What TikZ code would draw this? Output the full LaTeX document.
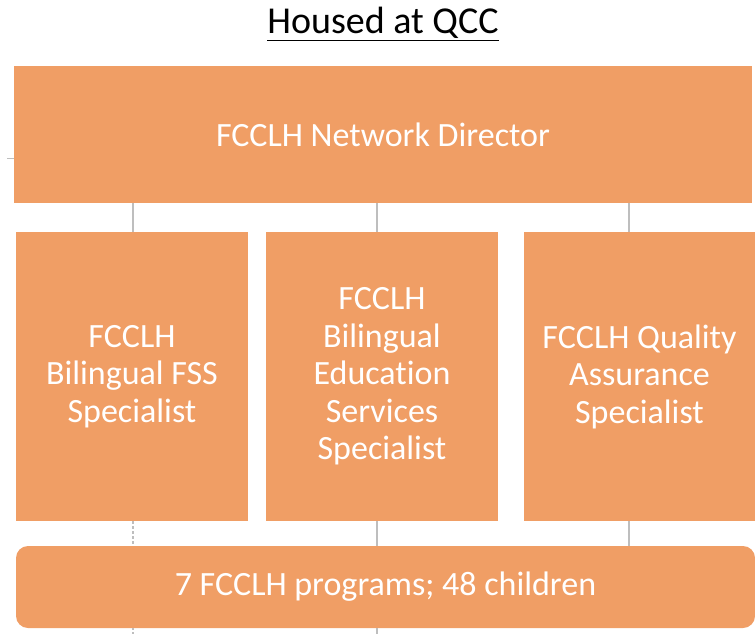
\documentclass[tikz,border=0pt]{standalone}
\usepackage{fontspec}
\setmainfont{Carlito}[Ligatures=NoCommon]
\usepackage{tikz}
\usetikzlibrary{calc,positioning}
\definecolor{boxorange}{RGB}{240,158,101}
\definecolor{linegray}{RGB}{190,190,190}

\begin{document}
\begin{tikzpicture}[x=1pt,y=-1pt,
  orgbox/.style={rectangle,fill=boxorange,text=white,inner sep=0pt,align=center,
    font=\fontsize{34}{37.5}\selectfont},
  conn/.style={draw=linegray,line width=1.2pt}]
\useasboundingbox (0,0) rectangle (755,634);

\node (title) at (383,24) {\fontsize{38}{40}\selectfont\underline{Housed at QCC}};

\node (top) at (383,134.5)[orgbox,minimum width=738pt,minimum height=137pt] {FCCLH Network Director};

\node (fss) at (132,376.5)[orgbox,minimum width=232pt,minimum height=289pt] {FCCLH\\Bilingual FSS\\Specialist};
\node (edu) at (382,376.5)[orgbox,minimum width=232pt,minimum height=289pt] {FCCLH\\Bilingual\\Education\\Services\\Specialist};
\node (qa) at (639.5,376.5)[orgbox,minimum width=231pt,minimum height=289pt] {FCCLH Quality\\Assurance\\Specialist};

\node (prog) at (385.5,587)[orgbox,rounded corners=12pt,minimum width=739pt,minimum height=82pt] {7 FCCLH programs; 48 children};

% connector x positions
\coordinate (c1) at (133,0);
\coordinate (c2) at (377,0);
\coordinate (c3) at (629,0);
\coordinate (e1) at (133,634);
\coordinate (e2) at (377,634);
\coordinate (s1) at (7,158);

\draw[conn] (c1 |- top.south) -- (c1 |- fss.north);
\draw[conn] (c2 |- top.south) -- (c2 |- edu.north);
\draw[conn] (c3 |- top.south) -- (c3 |- qa.north);

\draw[conn,dash pattern=on 3pt off 2pt] (c1 |- fss.south) -- (c1 |- prog.north);
\draw[conn] (c2 |- edu.south) -- (c2 |- prog.north);
\draw[conn] (c3 |- qa.south) -- (c3 |- prog.north);

\draw[conn,dash pattern=on 2pt off 2pt] (c1 |- prog.south) -- (e1);
\draw[conn] (c2 |- prog.south) -- (e2);
\draw[conn,line width=0.8pt] (s1) -- (top.west |- s1);
\end{tikzpicture}
\end{document}
